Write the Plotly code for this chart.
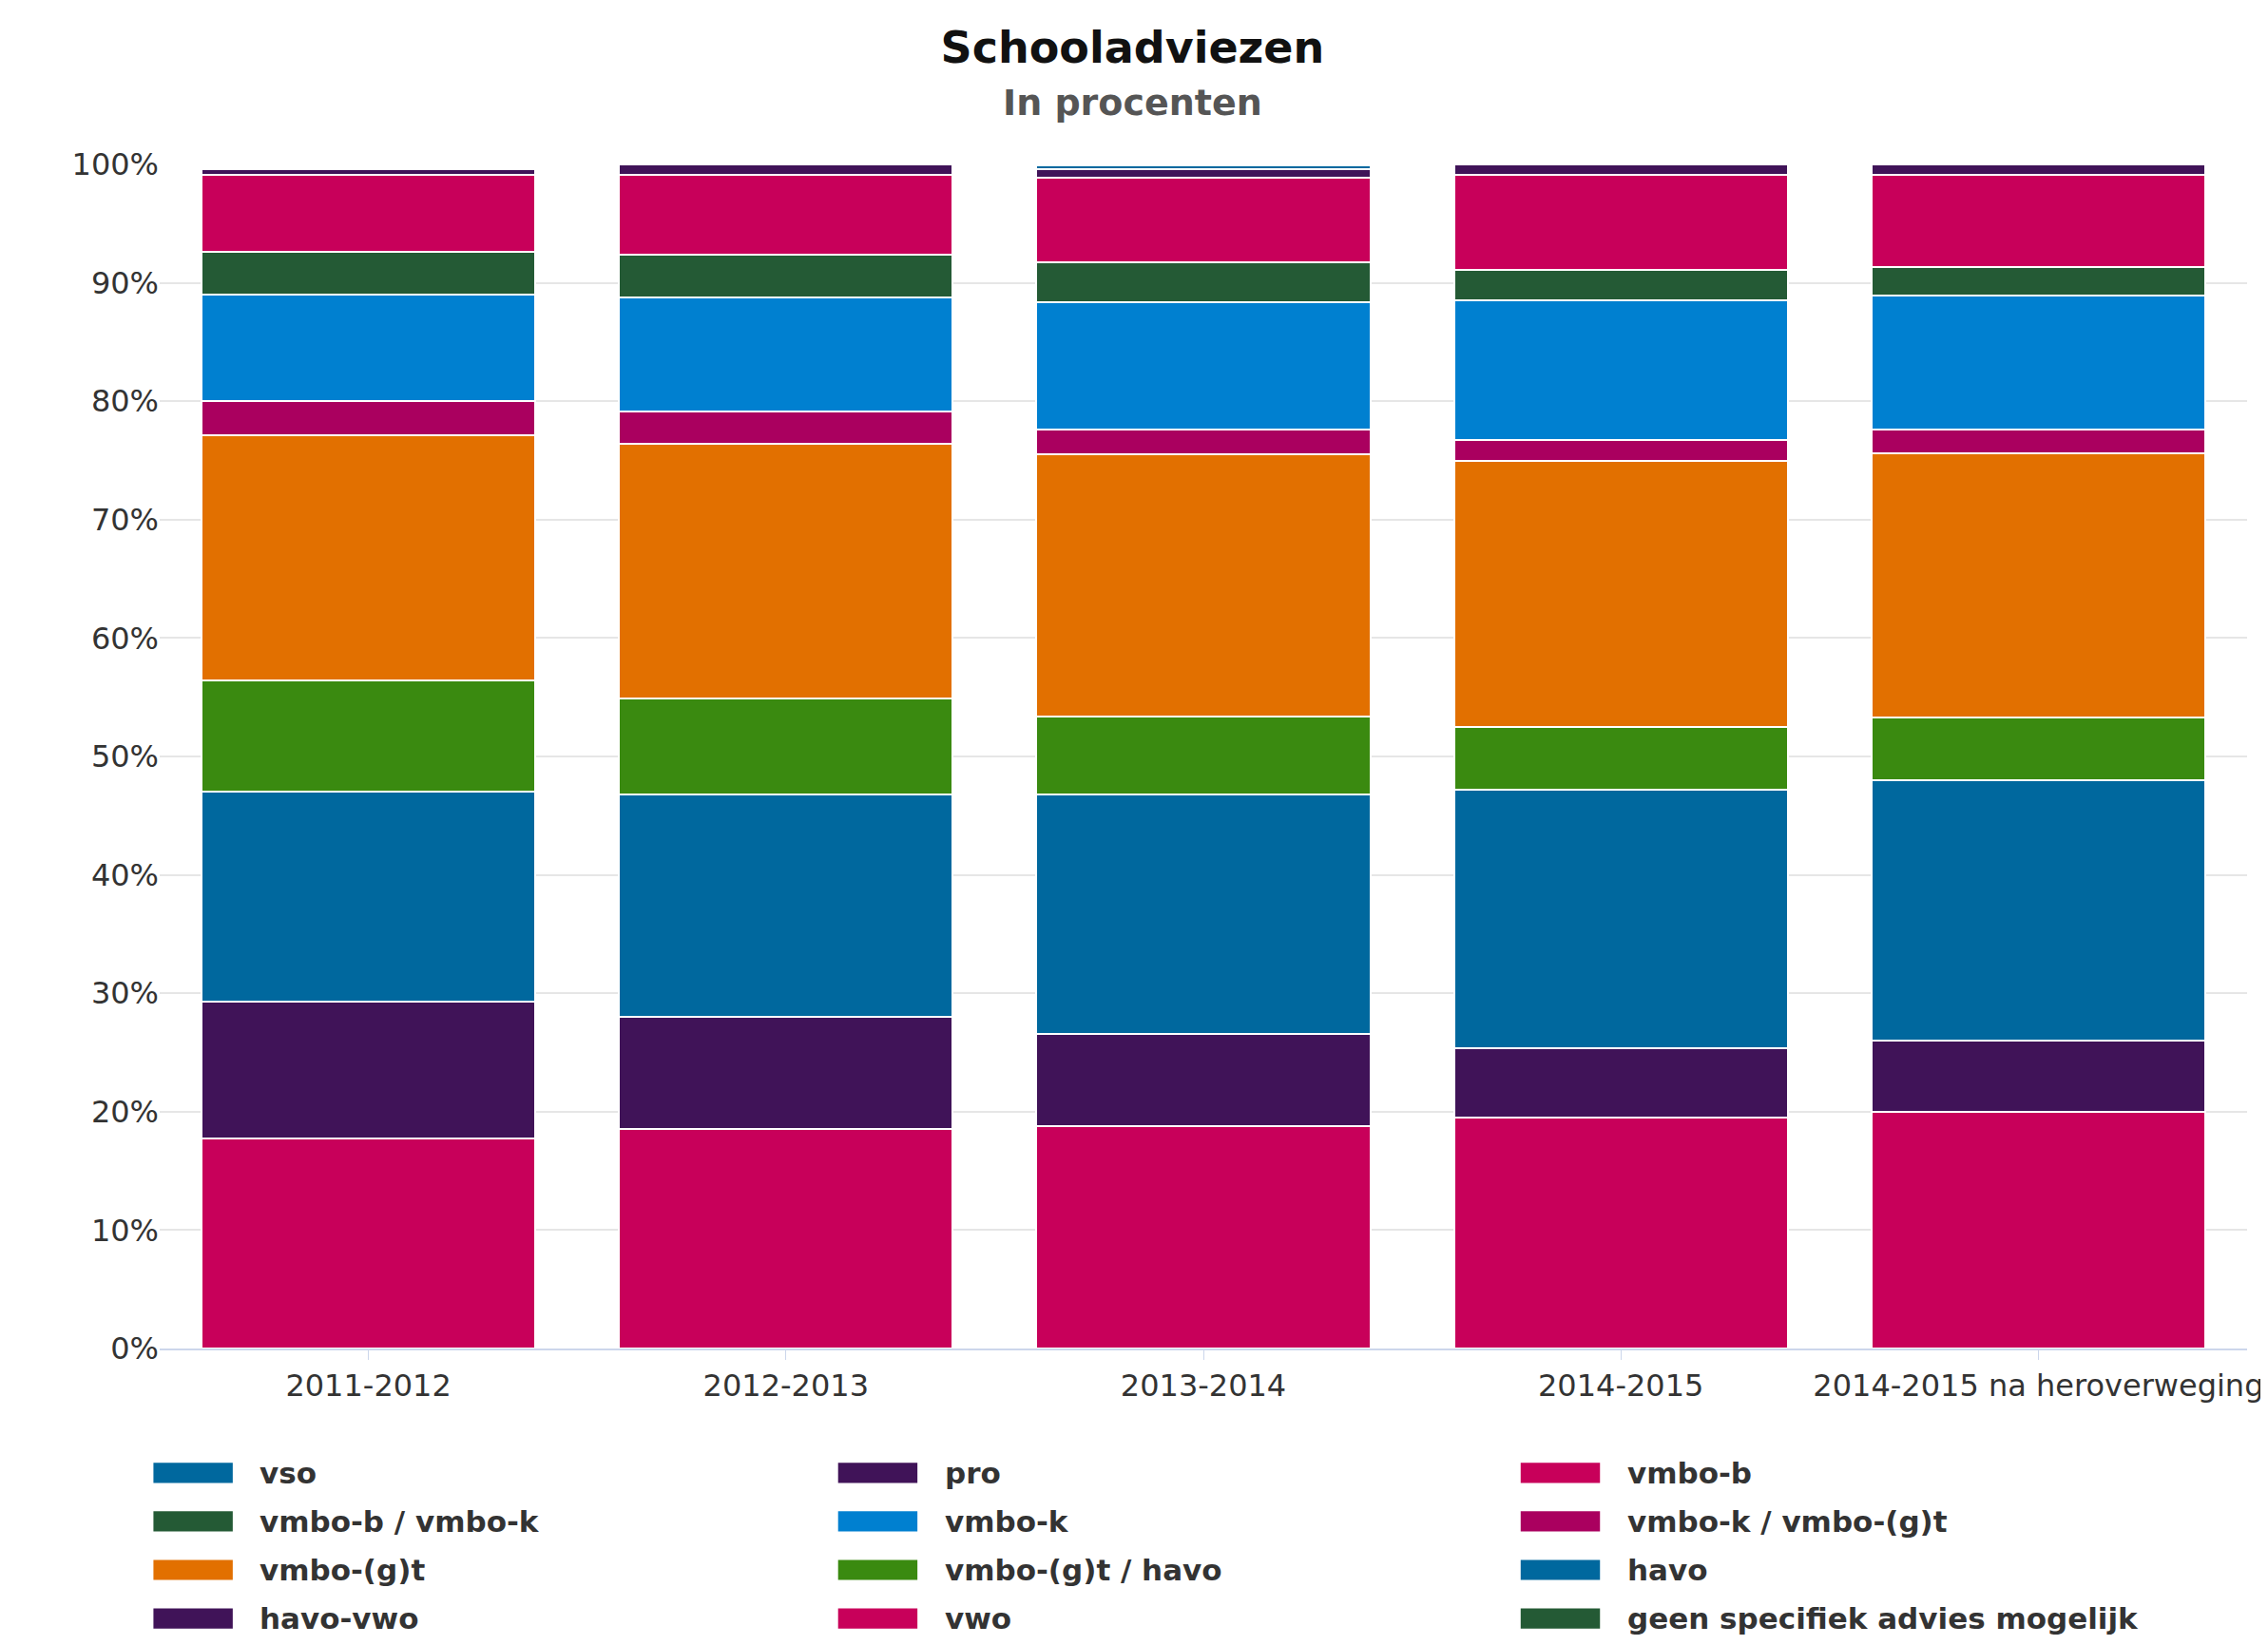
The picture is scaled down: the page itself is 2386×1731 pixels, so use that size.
import plotly.graph_objects as go

years = ["2011-2012", "2012-2013", "2013-2014", "2014-2015", "2014-2015 na heroverweging"]

# stacking order bottom -> top
vwo = [17.7, 18.5, 18.8, 19.5, 20.0]
havo_vwo = [11.6, 9.5, 7.8, 5.9, 6.0]
havo = [17.7, 18.8, 20.2, 21.8, 22.0]
vmbo_gt_havo = [9.4, 8.1, 6.6, 5.3, 5.3]
vmbo_gt = [20.7, 21.5, 22.1, 22.5, 22.3]
vmbo_k_gt = [2.9, 2.7, 2.1, 1.7, 2.0]
vmbo_k = [9.0, 9.7, 10.8, 11.8, 11.3]
vmbo_b_k = [3.6, 3.6, 3.3, 2.6, 2.4]
vmbo_b = [6.5, 6.7, 7.2, 8.0, 7.8]
pro = [0.5, 0.9, 0.7, 0.9, 0.9]
vso = [0.0, 0.0, 0.3, 0.0, 0.0]
geen = [0.0, 0.0, 0.1, 0.0, 0.0]

# (name, values, colour, legend position)
series = [
    ("vwo", vwo, "#c8005a", 10),
    ("havo-vwo", havo_vwo, "#401358", 9),
    ("havo", havo, "#00689e", 8),
    ("vmbo-(g)t / havo", vmbo_gt_havo, "#3a8a10", 7),
    ("vmbo-(g)t", vmbo_gt, "#e27000", 6),
    ("vmbo-k / vmbo-(g)t", vmbo_k_gt, "#aa005f", 5),
    ("vmbo-k", vmbo_k, "#0080d0", 4),
    ("vmbo-b / vmbo-k", vmbo_b_k, "#245a35", 3),
    ("vmbo-b", vmbo_b, "#c8005a", 2),
    ("pro", pro, "#401358", 1),
    ("vso", vso, "#00689e", 0),
    ("geen specifiek advies mogelijk", geen, "#245a35", 11),
]

fig = go.Figure()
col_x = [-0.003, 0.325, 0.652]
for name, vals, col, pos in series:
    fig.add_trace(go.Bar(x=years, y=vals, name=name, marker_color=col,
                         marker_line_color="white", marker_line_width=2,
                         showlegend=False))
    # custom legend entry with wide colour swatch
    cx = col_x[pos % 3]
    cy = -0.105 - 0.041 * (pos // 3)
    fig.add_shape(type="rect", xref="paper", yref="paper",
                  x0=cx, x1=cx + 0.038, y0=cy - 0.0085, y1=cy + 0.0085,
                  fillcolor=col, line_width=0)
    fig.add_annotation(xref="paper", yref="paper", x=cx + 0.05, y=cy,
                       xanchor="left", yanchor="middle", showarrow=False,
                       text="<b>" + name + "</b>",
                       font=dict(size=31, color="#333"))

fig.add_annotation(xref="paper", yref="paper", x=0.466, y=1.052,
                   xanchor="center", yanchor="middle", showarrow=False,
                   text="<b>In procenten</b>", font=dict(size=38, color="#555"))

fig.update_layout(
    barmode="stack", bargap=0.2,
    width=2386, height=1731,
    plot_bgcolor="white", paper_bgcolor="white",
    font=dict(family="DejaVu Sans", size=32, color="#333"),
    title=dict(text="<b>Schooladviezen</b>", x=0.496, y=0.985, yanchor="top",
               font=dict(size=46, color="#111")),
    margin=dict(l=160, r=30, t=165, b=320),
    xaxis=dict(showline=True, linecolor="#ccd6eb", linewidth=2, ticks="outside",
               tickcolor="#ccd6eb", ticklen=10, tickfont=dict(size=32, color="#333")),
    yaxis=dict(range=[0, 100], dtick=10, ticksuffix="%", gridcolor="#e6e6e6",
               gridwidth=2, tickfont=dict(size=32, color="#333")),
)
fig.write_html("out.html")
